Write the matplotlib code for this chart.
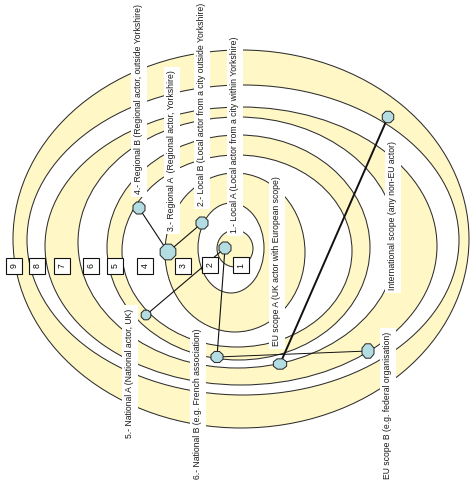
import numpy as np
import matplotlib
matplotlib.use('Agg')
import matplotlib.pyplot as plt
from matplotlib.patches import Ellipse, Rectangle, Polygon

# ---- ring ellipses, outermost (9) to innermost (1): extents in pixel coords
ring_left = [13, 27, 45, 78, 107, 122, 165, 198, 217]
ring_right = [469, 459, 437, 397, 370, 352, 305, 264, 253]
ring_top = [50, 85, 107, 117, 135, 155, 173, 203, 230]
ring_bottom = [428, 395, 385, 368, 360, 347, 332, 293, 267]

# ---- numbered ring boxes
box_labels = ['9', '8', '7', '6', '5', '4', '3', '2', '1']
box_x = [14, 37, 62, 91, 115, 145, 183, 210, 241]
box_y = [266, 266, 266, 266, 266, 266, 266, 265, 265]

# ---- actor nodes
node_names = ['LocalA', 'LocalB', 'RegionalA', 'RegionalB', 'NationalA',
              'NationalB', 'EUA', 'EUB', 'Intl']
node_x = [225, 202, 168, 139, 146, 217, 280, 368, 388]
node_y = [248, 223, 252, 208, 315, 357, 364, 351, 117]
node_rx = [6.5, 6.5, 8.5, 6.5, 5.2, 6.5, 7.2, 6.5, 6.2]
node_ry = [6.5, 6.5, 8.5, 6.5, 5.2, 6.0, 5.6, 7.8, 6.2]

# ---- connections
links = [('RegionalB', 'RegionalA', 0.8), ('RegionalA', 'LocalB', 0.8),
         ('LocalA', 'NationalB', 0.8), ('NationalA', 'LocalA', 0.8),
         ('NationalB', 'EUB', 0.7), ('EUA', 'Intl', 1.4)]

# ---- text labels (rotated)
label_text = ['1.- Local A (Local actor from a city within Yorkshire)',
              '2.- Local B (Local actor from a city outside Yorkshire)',
              '3.- Regional A  (Regional actor, Yorkshire)',
              '4.- Regional B (Regional actor, outside Yorkshire)',
              '5.- National A (National actor, UK)',
              '6.- National B (e.g. French association)',
              'EU scope A (UK actor with European scope)',
              'EU scope B (e.g. federal organisation)',
              'International scope (any non-EU actor)']
label_x = [235, 202, 172, 139, 130, 198, 277, 388, 393]
label_y = [233, 206, 231, 194, 438, 479, 346, 479, 290]

YELLOW = '#FFF7C6'
NODE = '#B3DDE2'
FONT = 'Liberation Sans'

fig = plt.figure(figsize=(4.77, 4.84), dpi=100)
ax = fig.add_axes([0, 0, 1, 1])
ax.set_xlim(0, 477)
ax.set_ylim(484, 0)
ax.axis('off')

for i, (l, r, t, b) in enumerate(zip(ring_left, ring_right, ring_top, ring_bottom)):
    fc = YELLOW if i % 2 == 0 else 'white'
    ax.add_patch(Ellipse(((l + r) / 2, (t + b) / 2), r - l, b - t,
                         facecolor=fc, edgecolor='#2e2e2e', lw=0.75, zorder=1 + i * 0.01))

for s, x, y in zip(label_text, label_x, label_y):
    ax.text(x, y, s, rotation=90, ha='center', va='bottom', fontsize=6.2,
            family=FONT, color='#1a1a1a', zorder=2.5,
            bbox=dict(facecolor='white', edgecolor='none', boxstyle='square,pad=0.4'))

idx = {n: i for i, n in enumerate(node_names)}
for a, b, lw in links:
    ia, ib = idx[a], idx[b]
    ax.plot([node_x[ia], node_x[ib]], [node_y[ia], node_y[ib]], color='#111111',
            lw=lw, zorder=3, solid_capstyle='butt')

ang = np.deg2rad(22.5 + 45 * np.arange(8))
for x, y, rx, ry in zip(node_x, node_y, node_rx, node_ry):
    pts = np.column_stack([x + rx * np.cos(ang), y + ry * np.sin(ang)])
    ax.add_patch(Polygon(pts, closed=True, facecolor=NODE, edgecolor='#222222',
                         lw=0.7, zorder=4))

for s, x, y in zip(box_labels, box_x, box_y):
    ax.add_patch(Rectangle((x - 8, y - 8), 16, 16, facecolor='white',
                           edgecolor='#111111', lw=0.8, zorder=5))
    ax.text(x, y, s, rotation=90, ha='center', va='center', fontsize=6.3,
            family=FONT, color='#111111', zorder=6)

fig.savefig('out.png', dpi=100)
